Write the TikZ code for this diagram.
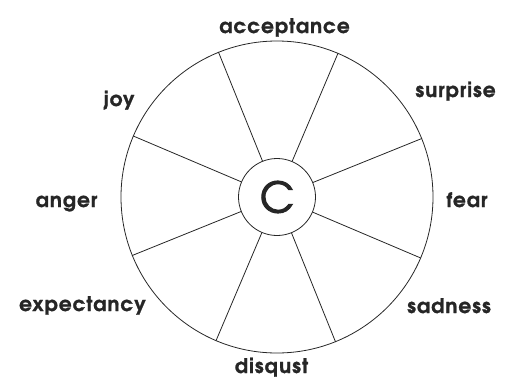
\documentclass[tikz,border=0pt]{standalone}
\usepackage{fontspec}
\setmainfont{TeX Gyre Adventor}
\newfontfamily\emofont{TeX Gyre Adventor}[LetterSpace = 5, BoldFeatures = {FakeBold = 1.2}]
\newfontfamily\hubfont{TeX Gyre Adventor}[FakeBold = 2.5]
\tikzset{
  emotion/.style = {anchor = base, inner sep = 0pt, font = \emofont\bfseries\fontsize{20}{20}\selectfont},
  ring/.style = {circle, draw, inner sep = 0pt}
}
\begin{document}
\begin{tikzpicture}[x = 1pt, y = -1pt, line width = 0.8pt, black!85]
\useasboundingbox (0,0) rectangle (506,378);
\node[ring, minimum size = 312pt] (wheel) at (277,197) {};
\node[ring, minimum size = 77pt, font = \hubfont\fontsize{42}{42}\selectfont] (C) at (277,197) {C};
\foreach \a in {22.5,67.5,...,337.5}
{
\draw (C.\a) -- (wheel.\a);
}
\foreach \emo / \x / \y in {acceptance/284.5/33, surprise/455.5/97, fear/467/207, sadness/449/313,
  disqust/271.5/373, expectancy/82.5/311, anger/66.5/207, joy/119/106}
{
\node[emotion] (\emo) at (\x,\y) {\emo};
}
\end{tikzpicture}
\end{document}
